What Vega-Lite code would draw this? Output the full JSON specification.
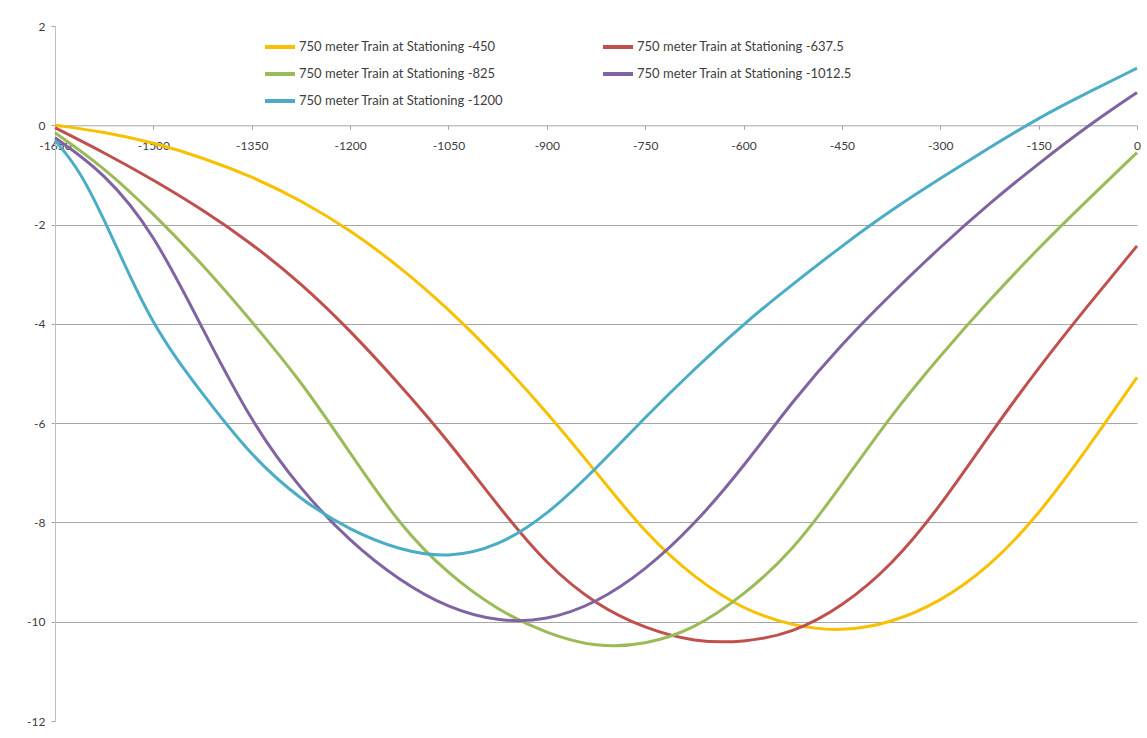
{
  "$schema": "https://vega.github.io/schema/vega-lite/v6.json",
  "width": 1082,
  "height": 695,
  "autosize": "none",
  "padding": {"left": 55, "top": 26, "right": 10, "bottom": 17},
  "background": "white",
  "config": {"view": {"stroke": null}, "font": "Lato"},
  "datasets": {
    "curves": [
      {"s": "750 meter Train at Stationing -450", "x": -1650, "y": 0},
      {"s": "750 meter Train at Stationing -450", "x": -1575, "y": -0.13},
      {"s": "750 meter Train at Stationing -450", "x": -1500, "y": -0.35},
      {"s": "750 meter Train at Stationing -450", "x": -1425, "y": -0.65},
      {"s": "750 meter Train at Stationing -450", "x": -1350, "y": -1.03},
      {"s": "750 meter Train at Stationing -450", "x": -1275, "y": -1.51},
      {"s": "750 meter Train at Stationing -450", "x": -1200, "y": -2.11},
      {"s": "750 meter Train at Stationing -450", "x": -1125, "y": -2.84},
      {"s": "750 meter Train at Stationing -450", "x": -1050, "y": -3.7},
      {"s": "750 meter Train at Stationing -450", "x": -975, "y": -4.68},
      {"s": "750 meter Train at Stationing -450", "x": -900, "y": -5.78},
      {"s": "750 meter Train at Stationing -450", "x": -825, "y": -6.98},
      {"s": "750 meter Train at Stationing -450", "x": -750, "y": -8.22},
      {"s": "750 meter Train at Stationing -450", "x": -675, "y": -9.12},
      {"s": "750 meter Train at Stationing -450", "x": -600, "y": -9.76},
      {"s": "750 meter Train at Stationing -450", "x": -525, "y": -10.09},
      {"s": "750 meter Train at Stationing -450", "x": -450, "y": -10.2},
      {"s": "750 meter Train at Stationing -450", "x": -375, "y": -10.03},
      {"s": "750 meter Train at Stationing -450", "x": -300, "y": -9.6},
      {"s": "750 meter Train at Stationing -450", "x": -225, "y": -8.9},
      {"s": "750 meter Train at Stationing -450", "x": -150, "y": -7.85},
      {"s": "750 meter Train at Stationing -450", "x": -75, "y": -6.5},
      {"s": "750 meter Train at Stationing -450", "x": 0, "y": -5.08},

      {"s": "750 meter Train at Stationing -637.5", "x": -1650, "y": -0.05},
      {"s": "750 meter Train at Stationing -637.5", "x": -1575, "y": -0.55},
      {"s": "750 meter Train at Stationing -637.5", "x": -1500, "y": -1.1},
      {"s": "750 meter Train at Stationing -637.5", "x": -1425, "y": -1.7},
      {"s": "750 meter Train at Stationing -637.5", "x": -1350, "y": -2.38},
      {"s": "750 meter Train at Stationing -637.5", "x": -1275, "y": -3.18},
      {"s": "750 meter Train at Stationing -637.5", "x": -1200, "y": -4.13},
      {"s": "750 meter Train at Stationing -637.5", "x": -1125, "y": -5.21},
      {"s": "750 meter Train at Stationing -637.5", "x": -1050, "y": -6.36},
      {"s": "750 meter Train at Stationing -637.5", "x": -975, "y": -7.66},
      {"s": "750 meter Train at Stationing -637.5", "x": -900, "y": -8.86},
      {"s": "750 meter Train at Stationing -637.5", "x": -825, "y": -9.66},
      {"s": "750 meter Train at Stationing -637.5", "x": -750, "y": -10.14},
      {"s": "750 meter Train at Stationing -637.5", "x": -675, "y": -10.41},
      {"s": "750 meter Train at Stationing -637.5", "x": -600, "y": -10.42},
      {"s": "750 meter Train at Stationing -637.5", "x": -525, "y": -10.23},
      {"s": "750 meter Train at Stationing -637.5", "x": -450, "y": -9.7},
      {"s": "750 meter Train at Stationing -637.5", "x": -375, "y": -8.88},
      {"s": "750 meter Train at Stationing -637.5", "x": -300, "y": -7.68},
      {"s": "750 meter Train at Stationing -637.5", "x": -225, "y": -6.23},
      {"s": "750 meter Train at Stationing -637.5", "x": -150, "y": -4.88},
      {"s": "750 meter Train at Stationing -637.5", "x": -75, "y": -3.63},
      {"s": "750 meter Train at Stationing -637.5", "x": 0, "y": -2.43},

      {"s": "750 meter Train at Stationing -825", "x": -1650, "y": -0.15},
      {"s": "750 meter Train at Stationing -825", "x": -1575, "y": -0.85},
      {"s": "750 meter Train at Stationing -825", "x": -1500, "y": -1.78},
      {"s": "750 meter Train at Stationing -825", "x": -1425, "y": -2.8},
      {"s": "750 meter Train at Stationing -825", "x": -1350, "y": -3.95},
      {"s": "750 meter Train at Stationing -825", "x": -1275, "y": -5.15},
      {"s": "750 meter Train at Stationing -825", "x": -1200, "y": -6.6},
      {"s": "750 meter Train at Stationing -825", "x": -1125, "y": -8.05},
      {"s": "750 meter Train at Stationing -825", "x": -1050, "y": -9.05},
      {"s": "750 meter Train at Stationing -825", "x": -975, "y": -9.77},
      {"s": "750 meter Train at Stationing -825", "x": -900, "y": -10.24},
      {"s": "750 meter Train at Stationing -825", "x": -825, "y": -10.52},
      {"s": "750 meter Train at Stationing -825", "x": -750, "y": -10.47},
      {"s": "750 meter Train at Stationing -825", "x": -675, "y": -10.15},
      {"s": "750 meter Train at Stationing -825", "x": -600, "y": -9.47},
      {"s": "750 meter Train at Stationing -825", "x": -525, "y": -8.58},
      {"s": "750 meter Train at Stationing -825", "x": -450, "y": -7.24},
      {"s": "750 meter Train at Stationing -825", "x": -375, "y": -5.84},
      {"s": "750 meter Train at Stationing -825", "x": -300, "y": -4.64},
      {"s": "750 meter Train at Stationing -825", "x": -225, "y": -3.52},
      {"s": "750 meter Train at Stationing -825", "x": -150, "y": -2.47},
      {"s": "750 meter Train at Stationing -825", "x": -75, "y": -1.5},
      {"s": "750 meter Train at Stationing -825", "x": 0, "y": -0.55},

      {"s": "750 meter Train at Stationing -1012.5", "x": -1650, "y": -0.25},
      {"s": "750 meter Train at Stationing -1012.5", "x": -1575, "y": -0.95},
      {"s": "750 meter Train at Stationing -1012.5", "x": -1500, "y": -2.15},
      {"s": "750 meter Train at Stationing -1012.5", "x": -1425, "y": -4.1},
      {"s": "750 meter Train at Stationing -1012.5", "x": -1350, "y": -6.0},
      {"s": "750 meter Train at Stationing -1012.5", "x": -1275, "y": -7.35},
      {"s": "750 meter Train at Stationing -1012.5", "x": -1200, "y": -8.39},
      {"s": "750 meter Train at Stationing -1012.5", "x": -1125, "y": -9.17},
      {"s": "750 meter Train at Stationing -1012.5", "x": -1050, "y": -9.73},
      {"s": "750 meter Train at Stationing -1012.5", "x": -975, "y": -10.0},
      {"s": "750 meter Train at Stationing -1012.5", "x": -900, "y": -9.98},
      {"s": "750 meter Train at Stationing -1012.5", "x": -825, "y": -9.63},
      {"s": "750 meter Train at Stationing -1012.5", "x": -750, "y": -8.97},
      {"s": "750 meter Train at Stationing -1012.5", "x": -675, "y": -8.05},
      {"s": "750 meter Train at Stationing -1012.5", "x": -600, "y": -6.88},
      {"s": "750 meter Train at Stationing -1012.5", "x": -525, "y": -5.55},
      {"s": "750 meter Train at Stationing -1012.5", "x": -450, "y": -4.4},
      {"s": "750 meter Train at Stationing -1012.5", "x": -375, "y": -3.4},
      {"s": "750 meter Train at Stationing -1012.5", "x": -300, "y": -2.45},
      {"s": "750 meter Train at Stationing -1012.5", "x": -225, "y": -1.57},
      {"s": "750 meter Train at Stationing -1012.5", "x": -150, "y": -0.77},
      {"s": "750 meter Train at Stationing -1012.5", "x": -75, "y": -0.01},
      {"s": "750 meter Train at Stationing -1012.5", "x": 0, "y": 0.66},

      {"s": "750 meter Train at Stationing -1200", "x": -1650, "y": -0.3},
      {"s": "750 meter Train at Stationing -1200", "x": -1612.5, "y": -0.9},
      {"s": "750 meter Train at Stationing -1200", "x": -1575, "y": -1.9},
      {"s": "750 meter Train at Stationing -1200", "x": -1537.5, "y": -3.0},
      {"s": "750 meter Train at Stationing -1200", "x": -1500, "y": -4.0},
      {"s": "750 meter Train at Stationing -1200", "x": -1462.5, "y": -4.75},
      {"s": "750 meter Train at Stationing -1200", "x": -1425, "y": -5.41},
      {"s": "750 meter Train at Stationing -1200", "x": -1350, "y": -6.68},
      {"s": "750 meter Train at Stationing -1200", "x": -1275, "y": -7.55},
      {"s": "750 meter Train at Stationing -1200", "x": -1200, "y": -8.16},
      {"s": "750 meter Train at Stationing -1200", "x": -1125, "y": -8.56},
      {"s": "750 meter Train at Stationing -1200", "x": -1050, "y": -8.72},
      {"s": "750 meter Train at Stationing -1200", "x": -975, "y": -8.49},
      {"s": "750 meter Train at Stationing -1200", "x": -900, "y": -7.86},
      {"s": "750 meter Train at Stationing -1200", "x": -825, "y": -6.92},
      {"s": "750 meter Train at Stationing -1200", "x": -750, "y": -5.88},
      {"s": "750 meter Train at Stationing -1200", "x": -675, "y": -4.91},
      {"s": "750 meter Train at Stationing -1200", "x": -600, "y": -4.0},
      {"s": "750 meter Train at Stationing -1200", "x": -525, "y": -3.2},
      {"s": "750 meter Train at Stationing -1200", "x": -450, "y": -2.43},
      {"s": "750 meter Train at Stationing -1200", "x": -375, "y": -1.71},
      {"s": "750 meter Train at Stationing -1200", "x": -300, "y": -1.07},
      {"s": "750 meter Train at Stationing -1200", "x": -225, "y": -0.45},
      {"s": "750 meter Train at Stationing -1200", "x": -150, "y": 0.15},
      {"s": "750 meter Train at Stationing -1200", "x": -75, "y": 0.66},
      {"s": "750 meter Train at Stationing -1200", "x": 0, "y": 1.15}
    ]
  },
  "data": {"name": "curves"},
  "mark": {"type": "line", "strokeWidth": 3, "interpolate": "basis"},
  "encoding": {
    "x": {
      "field": "x",
      "type": "quantitative",
      "scale": {"domain": [-1650, 0], "nice": false, "zero": false},
      "axis": {
        "title": null,
        "values": [-1650, -1500, -1350, -1200, -1050, -900, -750, -600, -450, -300, -150, 0],
        "labelExpr": "'' + datum.value",
        "offset": -595.7,
        "grid": false,
        "domainColor": "#A6A6A6",
        "tickColor": "#A6A6A6",
        "tickSize": 4,
        "labelFontSize": 12,
        "labelColor": "#404040",
        "labelPadding": 11,
        "labelFlush": false,
        "labelBound": false,
        "labelOverlap": false
      }
    },
    "y": {
      "field": "y",
      "type": "quantitative",
      "scale": {"domain": [-12, 2], "nice": false, "zero": false},
      "axis": {
        "title": null,
        "values": [2, 0, -2, -4, -6, -8, -10, -12],
        "labelExpr": "'' + datum.value",
        "grid": true,
        "gridColor": "#A6A6A6",
        "gridOpacity": {"condition": {"test": "datum.value == 2 || datum.value == -12 || datum.value == 0", "value": 0}, "value": 1},
        "domainColor": "#BFBFBF",
        "tickColor": "#A6A6A6",
        "tickSize": 4,
        "labelFontSize": 12,
        "labelColor": "#404040",
        "labelPadding": 6
      }
    },
    "color": {
      "field": "s",
      "type": "nominal",
      "sort": [
        "750 meter Train at Stationing -450",
        "750 meter Train at Stationing -637.5",
        "750 meter Train at Stationing -825",
        "750 meter Train at Stationing -1012.5",
        "750 meter Train at Stationing -1200"
      ],
      "scale": {
        "domain": [
          "750 meter Train at Stationing -450",
          "750 meter Train at Stationing -637.5",
          "750 meter Train at Stationing -825",
          "750 meter Train at Stationing -1012.5",
          "750 meter Train at Stationing -1200"
        ],
        "range": ["#F7C000", "#C0504D", "#9BBB59", "#8064A2", "#4BACC6"]
      },
      "legend": {
        "title": null,
        "orient": "none",
        "legendX": 208,
        "legendY": 4,
        "direction": "horizontal",
        "columns": 2,
        "symbolType": "stroke",
        "symbolSize": 900,
        "symbolStrokeWidth": 4,
        "labelFontSize": 13,
        "labelColor": "#404040",
        "labelOffset": 2,
        "columnPadding": 91,
        "rowPadding": 2,
        "labelLimit": 400
      }
    }
  }
}
